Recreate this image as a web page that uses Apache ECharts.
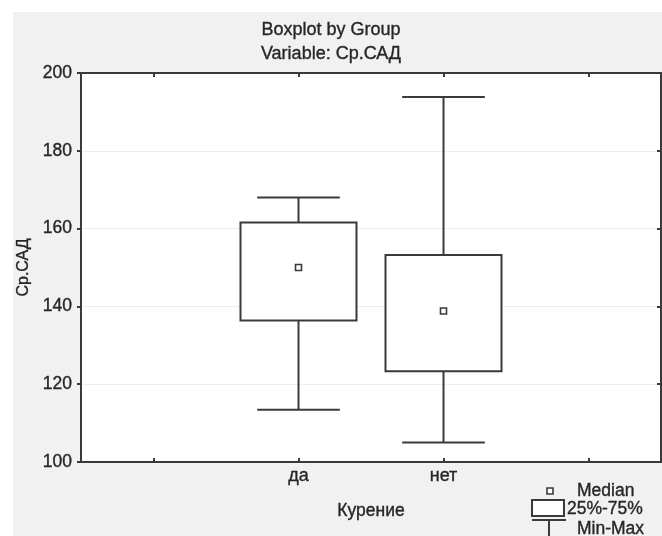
<!DOCTYPE html>
<html>
<head>
<meta charset="utf-8">
<script src="https://cdn.jsdelivr.net/npm/echarts@6/dist/echarts.min.js"></script>
<style>
html,body{margin:0;padding:0;background:#fff;}
#c{width:662px;height:536px;}
</style>
</head>
<body>
<div id="c"></div>
<script>
// categories (outer blanks are padding slots of the Statistica axis)
var categories = ['', 'да', 'нет', ''];
// box statistics per group
var groups = ['да', 'нет'];
var minVals = [113.4, 105.0];
var q1Vals = [136.4, 123.3];
var medianVals = [150.0, 138.8];
var q3Vals = [161.6, 153.2];
var maxVals = [168.0, 193.8];
var yTicks = [100, 120, 140, 160, 180, 200];

var boxData = groups.map(function (g, i) {
  return [categories.indexOf(g), minVals[i], q1Vals[i], medianVals[i], q3Vals[i], maxVals[i]];
});

var LINE = '#3a3a3a';
var TXT = '#262626';
var FONT = '"Liberation Sans", Arial, sans-serif';
var TB = {textBorderColor: TXT, textBorderWidth: 0.35};

var chart = echarts.init(document.getElementById('c'), null, {renderer: 'canvas'});

function renderBox(params, api) {
  var x = api.value(0);
  var band = api.size([1, 0])[0];
  var bw = band * 0.80;
  var cw = band * 0.57;
  var pMin = api.coord([x, api.value(1)]);
  var pQ1 = api.coord([x, api.value(2)]);
  var pMed = api.coord([x, api.value(3)]);
  var pQ3 = api.coord([x, api.value(4)]);
  var pMax = api.coord([x, api.value(5)]);
  var cx = pMed[0];
  var st = {stroke: LINE, lineWidth: 2, fill: null};
  return {
    type: 'group',
    children: [
      {type: 'line', shape: {x1: cx, y1: pMax[1], x2: cx, y2: pQ3[1]}, style: st},
      {type: 'line', shape: {x1: cx, y1: pQ1[1], x2: cx, y2: pMin[1]}, style: st},
      {type: 'line', shape: {x1: cx - cw / 2, y1: pMax[1], x2: cx + cw / 2, y2: pMax[1]}, style: st},
      {type: 'line', shape: {x1: cx - cw / 2, y1: pMin[1], x2: cx + cw / 2, y2: pMin[1]}, style: st},
      {type: 'rect', shape: {x: cx - bw / 2, y: pQ3[1], width: bw, height: pQ1[1] - pQ3[1]}, style: {stroke: LINE, lineWidth: 2, fill: '#fff'}},
      {type: 'rect', shape: {x: cx - 3, y: pMed[1] - 3, width: 6, height: 6}, style: {stroke: LINE, lineWidth: 1.6, fill: '#fff'}}
    ]
  };
}

function ts(size) {
  return Object.assign({fontSize: size, fontWeight: 'normal', color: TXT, fontFamily: FONT}, TB);
}

var option = {
  backgroundColor: '#ffffff',
  animation: false,
  textStyle: {fontFamily: FONT},
  title: [
    {text: 'Boxplot by Group', left: 'center', top: 16, textStyle: ts(18)},
    {text: 'Variable: Ср.САД', left: 'center', top: 40, textStyle: ts(18)}
  ],
  graphic: [
    {type: 'rect', z: -10, silent: true, shape: {x: 13, y: 12, width: 662 - 13, height: 536 - 12}, style: {fill: '#f1f1f1'}},
    // legend
    {type: 'rect', shape: {x: 547, y: 488, width: 6, height: 6}, style: {stroke: LINE, lineWidth: 1.6, fill: '#fff'}},
    {type: 'text', style: {x: 577, y: 491, text: 'Median', fontSize: 17.5, fontFamily: FONT, fill: TXT, stroke: TXT, lineWidth: 0.35, verticalAlign: 'middle'}},
    {type: 'rect', shape: {x: 532, y: 500, width: 32, height: 16}, style: {stroke: LINE, lineWidth: 2, fill: '#fff'}},
    {type: 'text', style: {x: 567, y: 509, text: '25%-75%', fontSize: 17.5, fontFamily: FONT, fill: TXT, stroke: TXT, lineWidth: 0.35, verticalAlign: 'middle'}},
    {type: 'line', shape: {x1: 532, y1: 520, x2: 566, y2: 520}, style: {stroke: LINE, lineWidth: 2}},
    {type: 'line', shape: {x1: 549, y1: 520, x2: 549, y2: 536}, style: {stroke: LINE, lineWidth: 2}},
    {type: 'text', style: {x: 577, y: 529, text: 'Min-Max', fontSize: 17.5, fontFamily: FONT, fill: TXT, stroke: TXT, lineWidth: 0.35, verticalAlign: 'middle'}}
  ],
  grid: {left: 81, right: 1, top: 73, bottom: 74, show: true, backgroundColor: '#ffffff', borderColor: LINE, borderWidth: 2},
  xAxis: [
    {
      type: 'category', data: categories, position: 'bottom', boundaryGap: true,
      name: 'Курение', nameLocation: 'middle', nameGap: 40,
      nameTextStyle: ts(17.5),
      axisLine: {show: true, lineStyle: {color: LINE, width: 2}},
      axisTick: {show: true, inside: true, alignWithLabel: true, length: 4, lineStyle: {color: LINE, width: 2}},
      axisLabel: Object.assign({show: true, margin: 5, interval: 0}, ts(18)),
      splitLine: {show: false}
    },
    {
      type: 'category', data: categories, position: 'top', boundaryGap: true,
      axisLine: {show: true, lineStyle: {color: LINE, width: 2}},
      axisTick: {show: true, inside: true, alignWithLabel: true, length: 4, lineStyle: {color: LINE, width: 2}},
      axisLabel: {show: false},
      splitLine: {show: false}
    }
  ],
  yAxis: [
    {
      type: 'value', min: 100, max: 200, interval: 20, position: 'left',
      name: 'Ср.САД', nameLocation: 'middle', nameGap: 44,
      nameTextStyle: ts(16),
      axisLine: {show: true, lineStyle: {color: LINE, width: 2}},
      axisTick: {show: true, inside: false, length: 4, lineStyle: {color: LINE, width: 2}},
      axisLabel: Object.assign({show: true, margin: 9,
        formatter: function (v) { return yTicks.indexOf(v) >= 0 ? String(v) : ''; }}, ts(17.5)),
      splitLine: {show: true, lineStyle: {color: '#eeeeee', width: 1}}
    },
    {
      type: 'value', min: 100, max: 200, interval: 20, position: 'right',
      axisLine: {show: true, lineStyle: {color: LINE, width: 2}},
      axisTick: {show: true, inside: true, length: 4, lineStyle: {color: LINE, width: 2}},
      axisLabel: {show: false},
      splitLine: {show: false}
    }
  ],
  series: [{
    type: 'custom',
    xAxisIndex: 0,
    yAxisIndex: 0,
    renderItem: renderBox,
    encode: {x: 0, y: [1, 2, 3, 4, 5]},
    data: boxData,
    z: 5
  }]
};
chart.setOption(option);
</script>
</body>
</html>
